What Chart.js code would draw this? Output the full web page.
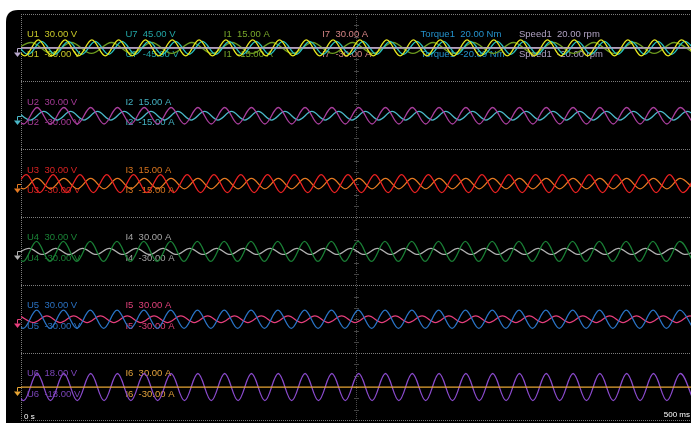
<!DOCTYPE html>
<html lang="en">
<head>
<meta charset="UTF-8">
<title>Scope recorder</title>
<script src="https://cdn.jsdelivr.net/npm/chart.js@4"></script>
<style>
  html, body { margin: 0; padding: 0; background: #ffffff; overflow: hidden; }
  .scope-box { width: 691px; height: 423px; position: relative; }
</style>
</head>
<body>
<div class="scope-box"><canvas id="scope"></canvas></div>
<script>
// time axis in ms
const timeRange = [0, 500];
const timeLabels = ['0 s', '500 ms'];

// channels (one per trace), the strip they sit in and their full-scale span
const channelNames = ['U1', 'U7', 'I1', 'I7', 'Torque1', 'Speed1', 'U2', 'I2', 'U3', 'I3', 'U4', 'I4', 'U5', 'I5', 'U6', 'I6'];
const channelStrip = [0, 0, 0, 0, 0, 0, 1, 1, 2, 2, 3, 3, 4, 4, 5, 5];
const channelSpan  = [30, 45, 15, 30, 20, 20, 30, 15, 30, 15, 30, 30, 30, 30, 18, 30];
const channelUnits = ['V', 'V', 'A', 'A', 'Nm', 'rpm', 'V', 'A', 'V', 'A', 'V', 'A', 'V', 'A', 'V', 'A'];

// each trace read as its successive peaks/troughs: time of the first one and the spacing (ms)
const extremaStartMs = [-7.1, -4.6, -7.5, 0, 0, 0, -8, -3, -6, -8, -8.4, -4, -8.3, -0.7, -8, 0];
const halfPeriodMs   = [10, 10, 15, 500, 500, 500, 10, 10, 10, 10, 10, 10, 10, 10, 10, 500];

// peak / trough values, in channel units
const u1Extrema = [7.1,-7.1,7.1,-7.1,7.1,-7.1,7.1,-7.1,7.1,-7.1,7.1,-7.1,7.1,-7.1,7.1,-7.1,7.1,-7.1,7.1,-7.1,7.1,-7.1,7.1,-7.1,7.1,-7.1,
                   7.1,-7.1,7.1,-7.1,7.1,-7.1,7.1,-7.1,7.1,-7.1,7.1,-7.1,7.1,-7.1,7.1,-7.1,7.1,-7.1,7.1,-7.1,7.1,-7.1,7.1,-7.1,7.1,-7.1];
const u7Extrema = [8.6,-8.6,8.6,-8.6,8.6,-8.6,8.6,-8.6,8.6,-8.6,8.6,-8.6,8.6,-8.6,8.6,-8.6,8.6,-8.6,8.6,-8.6,8.6,-8.6,8.6,-8.6,8.6,-8.6,
                   8.6,-8.6,8.6,-8.6,8.6,-8.6,8.6,-8.6,8.6,-8.6,8.6,-8.6,8.6,-8.6,8.6,-8.6,8.6,-8.6,8.6,-8.6,8.6,-8.6,8.6,-8.6,8.6,-8.6];
const i1Extrema = [-2.4,2.4,-2.4,2.4,-2.4,2.4,-2.4,2.4,-2.4,2.4,-2.4,2.4,-2.4,2.4,-2.4,2.4,-2.4,2.4,
                   -2.4,2.4,-2.4,2.4,-2.4,2.4,-2.4,2.4,-2.4,2.4,-2.4,2.4,-2.4,2.4,-2.4,2.4,-2.4];
const i7Extrema = [0, 0];
const torque1Extrema = [0, 0];
const speed1Extrema = [0, 0];
const u2Extrema = [7.3,-7.3,7.3,-7.3,7.3,-7.3,7.3,-7.3,7.3,-7.3,7.3,-7.3,7.3,-7.3,7.3,-7.3,7.3,-7.3,7.3,-7.3,7.3,-7.3,7.3,-7.3,7.3,-7.3,
                   7.3,-7.3,7.3,-7.3,7.3,-7.3,7.3,-7.3,7.3,-7.3,7.3,-7.3,7.3,-7.3,7.3,-7.3,7.3,-7.3,7.3,-7.3,7.3,-7.3,7.3,-7.3,7.3,-7.3];
const i2Extrema = [1.9,-1.9,1.9,-1.9,1.9,-1.9,1.9,-1.9,1.9,-1.9,1.9,-1.9,1.9,-1.9,1.9,-1.9,1.9,-1.9,1.9,-1.9,1.9,-1.9,1.9,-1.9,1.9,-1.9,
                   1.9,-1.9,1.9,-1.9,1.9,-1.9,1.9,-1.9,1.9,-1.9,1.9,-1.9,1.9,-1.9,1.9,-1.9,1.9,-1.9,1.9,-1.9,1.9,-1.9,1.9,-1.9,1.9,-1.9];
const u3Extrema = [-8,8,-8,8,-8,8,-8,8,-8,8,-8,8,-8,8,-8,8,-8,8,-8,8,-8,8,-8,8,-8,8,
                   -8,8,-8,8,-8,8,-8,8,-8,8,-8,8,-8,8,-8,8,-8,8,-8,8,-8,8,-8,8,-8,8];
const i3Extrema = [2.3,-2.3,2.3,-2.3,2.3,-2.3,2.3,-2.3,2.3,-2.3,2.3,-2.3,2.3,-2.3,2.3,-2.3,2.3,-2.3,2.3,-2.3,2.3,-2.3,2.3,-2.3,2.3,-2.3,
                   2.3,-2.3,2.3,-2.3,2.3,-2.3,2.3,-2.3,2.3,-2.3,2.3,-2.3,2.3,-2.3,2.3,-2.3,2.3,-2.3,2.3,-2.3,2.3,-2.3,2.3,-2.3,2.3,-2.3];
const u4Extrema = [8.8,-8.8,8.8,-8.8,8.8,-8.8,8.8,-8.8,8.8,-8.8,8.8,-8.8,8.8,-8.8,8.8,-8.8,8.8,-8.8,8.8,-8.8,8.8,-8.8,8.8,-8.8,8.8,-8.8,
                   8.8,-8.8,8.8,-8.8,8.8,-8.8,8.8,-8.8,8.8,-8.8,8.8,-8.8,8.8,-8.8,8.8,-8.8,8.8,-8.8,8.8,-8.8,8.8,-8.8,8.8,-8.8,8.8,-8.8];
const i4Extrema = [-2.7,2.7,-2.7,2.7,-2.7,2.7,-2.7,2.7,-2.7,2.7,-2.7,2.7,-2.7,2.7,-2.7,2.7,-2.7,2.7,-2.7,2.7,-2.7,2.7,-2.7,2.7,-2.7,2.7,
                   -2.7,2.7,-2.7,2.7,-2.7,2.7,-2.7,2.7,-2.7,2.7,-2.7,2.7,-2.7,2.7,-2.7,2.7,-2.7,2.7,-2.7,2.7,-2.7,2.7,-2.7,2.7,-2.7,2.7];
const u5Extrema = [8,-8,8,-8,8,-8,8,-8,8,-8,8,-8,8,-8,8,-8,8,-8,8,-8,8,-8,8,-8,8,-8,
                   8,-8,8,-8,8,-8,8,-8,8,-8,8,-8,8,-8,8,-8,8,-8,8,-8,8,-8,8,-8,8,-8];
const i5Extrema = [2.9,-2.9,2.9,-2.9,2.9,-2.9,2.9,-2.9,2.9,-2.9,2.9,-2.9,2.9,-2.9,2.9,-2.9,2.9,-2.9,2.9,-2.9,2.9,-2.9,2.9,-2.9,2.9,-2.9,
                   2.9,-2.9,2.9,-2.9,2.9,-2.9,2.9,-2.9,2.9,-2.9,2.9,-2.9,2.9,-2.9,2.9,-2.9,2.9,-2.9,2.9,-2.9,2.9,-2.9,2.9,-2.9,2.9,-2.9];
const u6Extrema = [7.2,-7.2,7.2,-7.2,7.2,-7.2,7.2,-7.2,7.2,-7.2,7.2,-7.2,7.2,-7.2,7.2,-7.2,7.2,-7.2,7.2,-7.2,7.2,-7.2,7.2,-7.2,7.2,-7.2,
                   7.2,-7.2,7.2,-7.2,7.2,-7.2,7.2,-7.2,7.2,-7.2,7.2,-7.2,7.2,-7.2,7.2,-7.2,7.2,-7.2,7.2,-7.2,7.2,-7.2,7.2,-7.2,7.2,-7.2];
const i6Extrema = [0, 0];

const channelExtrema = [u1Extrema, u7Extrema, i1Extrema, i7Extrema, torque1Extrema, speed1Extrema,
                        u2Extrema, i2Extrema, u3Extrema, i3Extrema, u4Extrema, i4Extrema,
                        u5Extrema, i5Extrema, u6Extrema, i6Extrema];

// styling
const traceColors = ['#e6e61e', '#24c2c2', '#6c9a1e', '#d88888', '#2490cc', '#b8a8cc',
                     '#a83e9c', '#4ab8c8', '#ec2222', '#e67a22', '#1a8036', '#b0b0b0',
                     '#2a74c6', '#e63e7c', '#8a4acc', '#e6a434'];
const labelColors = ['#c8c828', '#22a6a6', '#78a82a', '#d48484', '#2492cc', '#b0a2c2',
                     '#a43a96', '#44b2c2', '#d82222', '#d8741e', '#1a8236', '#a4a4a4',
                     '#2a70c0', '#e0407a', '#7a44b8', '#e2a23c'];
const traceLayer = [1, 1, 1, 1, 1, 0, 1, 1, 1, 1, 1, 1, 1, 1, 1, 0];
const stripCount = 6;
const gridColor = '#7c7c7c';

const datasets = channelNames.map((name, i) => ({
  label: name,
  xAxisID: 'x',
  yAxisID: 'y' + channelStrip[i],
  data: channelExtrema[i].map((v, k) => ({
    x: extremaStartMs[i] + k * halfPeriodMs[i],
    y: v / channelSpan[i]
  })),
  borderColor: traceColors[i],
  borderWidth: 1.3,
  pointRadius: 0,
  tension: 0.36,
  fill: false,
  order: traceLayer[i]
}));

const scales = {
  x: {
    type: 'linear',
    min: timeRange[0],
    max: timeRange[1],
    ticks: { display: false },
    grid: {
      color: c => (c.tick && c.tick.value === 0 ? gridColor : '#4a4a4a'),
      drawTicks: false
    },
    border: { display: false, dash: [1, 1] },
    afterBuildTicks: s => { s.ticks = [{ value: 0 }, { value: 250 }]; }
  }
};
for (let s = 0; s < stripCount; s++) {
  scales['y' + s] = {
    type: 'linear',
    position: 'left',
    stack: 'strips',
    stackWeight: 1,
    weight: stripCount - s,
    min: -1,
    max: 1,
    ticks: { display: false },
    grid: { color: gridColor, drawTicks: false },
    border: { display: false, dash: [1, 1] },
    afterBuildTicks: sc => { sc.ticks = [{ value: -1 }, { value: 1 }]; }
  };
}

const scopeDecor = {
  id: 'scopeDecor',
  beforeDraw(chart) {
    const ctx = chart.ctx;
    const x = 6, y = 10, w = chart.width + 30, h = chart.height + 30, r = 12;
    ctx.save();
    ctx.fillStyle = '#000000';
    ctx.beginPath();
    ctx.moveTo(x + r, y);
    ctx.lineTo(x + w, y);
    ctx.lineTo(x + w, y + h);
    ctx.lineTo(x, y + h);
    ctx.lineTo(x, y + r);
    ctx.quadraticCurveTo(x, y, x + r, y);
    ctx.fill();
    ctx.restore();
  },
  beforeDatasetsDraw(chart) {
    const ctx = chart.ctx;
    const area = chart.chartArea;
    const cx = chart.scales.x.getPixelForValue(250);
    ctx.save();
    // small division ticks along the centre line
    ctx.strokeStyle = '#444444';
    ctx.lineWidth = 1;
    for (let s = 0; s < stripCount; s++) {
      const sc = chart.scales['y' + s];
      [-2 / 3, -1 / 3, 0, 1 / 3, 2 / 3].forEach(f => {
        const py = Math.round(sc.getPixelForValue(f)) + 0.5;
        ctx.beginPath();
        ctx.moveTo(Math.round(cx) - 2, py);
        ctx.lineTo(Math.round(cx) + 3, py);
        ctx.stroke();
      });
    }
    // channel span labels
    ctx.font = '9.5px "Liberation Sans", Arial, sans-serif';
    ctx.textAlign = 'left';
    ctx.textBaseline = 'alphabetic';
    const colCount = new Array(stripCount).fill(0);
    channelNames.forEach((name, i) => {
      const s = channelStrip[i];
      const col = colCount[s]++;
      const zero = chart.scales['y' + s].getPixelForValue(0);
      const lx = area.left + 6 + col * 98.4;
      const span = channelSpan[i].toFixed(2);
      ctx.fillStyle = labelColors[i];
      ctx.fillText(name + '  ' + span + ' ' + channelUnits[i], lx, zero - 11);
      ctx.fillText(name + '  -' + span + ' ' + channelUnits[i], lx, zero + 9.5);
    });
    ctx.restore();
  },
  afterDraw(chart) {
    const ctx = chart.ctx;
    const area = chart.chartArea;
    ctx.save();
    // ground markers, coloured like the last trace of each strip
    for (let s = 0; s < stripCount; s++) {
      const idx = channelStrip.lastIndexOf(s);
      const y0 = Math.round(chart.scales['y' + s].getPixelForValue(0)) + 0.5;
      const mx = area.left - 3.5;
      ctx.strokeStyle = traceColors[idx];
      ctx.fillStyle = traceColors[idx];
      ctx.lineWidth = 1;
      ctx.beginPath();
      ctx.moveTo(mx, y0);
      ctx.lineTo(area.left, y0);
      ctx.moveTo(mx, y0);
      ctx.lineTo(mx, y0 + 4);
      ctx.stroke();
      ctx.beginPath();
      ctx.moveTo(mx - 3.5, y0 + 4);
      ctx.lineTo(mx + 3.5, y0 + 4);
      ctx.lineTo(mx, y0 + 8.5);
      ctx.closePath();
      ctx.fill();
    }
    // time labels
    ctx.fillStyle = '#ffffff';
    ctx.font = '8px "Liberation Sans", Arial, sans-serif';
    ctx.textAlign = 'left';
    ctx.fillText(timeLabels[0], area.left + 3, area.bottom - 2);
    ctx.textAlign = 'right';
    ctx.fillText(timeLabels[1], area.right - 1, area.bottom - 4);
    ctx.restore();
  }
};

new Chart(document.getElementById('scope'), {
  type: 'line',
  data: { datasets },
  options: {
    responsive: true,
    maintainAspectRatio: false,
    animation: false,
    layout: { padding: { left: 21, top: 14, right: 0, bottom: 2 } },
    scales,
    plugins: {
      legend: { display: false },
      tooltip: { enabled: false }
    },
    events: []
  },
  plugins: [scopeDecor]
});
</script>
</body>
</html>
